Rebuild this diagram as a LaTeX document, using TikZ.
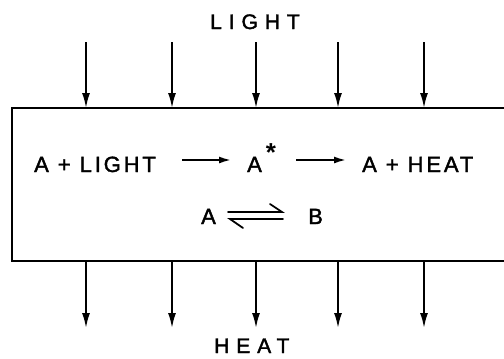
\documentclass[tikz,border=0pt]{standalone}
\usepackage{fontspec}
\setmainfont{Liberation Sans}
\newfontfamily\titlefont[LetterSpace=33,FakeBold=1.8]{Liberation Sans}
\newfontfamily\eqfont[LetterSpace=13,FakeBold=1.8]{Liberation Sans}
\usetikzlibrary{arrows.meta}
\tikzset{
  flux/.style={line width=1.8pt,-{Latex[length=15pt,width=8pt]}},
  react/.style={line width=1.8pt,-{Latex[length=12pt,width=7pt]}},
  harp/.style={line width=1.8pt,line cap=round},
  ttl/.style={anchor=base west,inner sep=0pt,font=\titlefont\fontsize{21}{21}\selectfont},
  eq/.style={anchor=base west,inner sep=0pt,font=\eqfont\fontsize{22}{22}\selectfont},
  boxline/.style={line width=2pt}
}
\begin{document}
\begin{tikzpicture}[x=1pt,y=-1pt]
\useasboundingbox (0,0) rectangle (504,359);
% box (right side runs beyond the picture)
\coordinate (tr) at (520,108);
\coordinate (tl) at (12,108);
\coordinate (bl) at (12,261);
\coordinate (br) at (520,261);
\draw[boxline] (tr) -- (tl) -- (bl) -- (br);
% titles
\node[ttl] (light) at (210,29) {LIGHT};
\node[ttl] (heat) at (214,353) {HEAT};
% incoming and outgoing arrows
\foreach \i/\x in {1/86,2/172,3/256,4/338,5/424}{
  \coordinate (in\i) at (\x,42);
  \coordinate (top\i) at (\x,108);
  \coordinate (bot\i) at (\x,261);
  \coordinate (out\i) at (\x,328);
  \draw[flux] (in\i) -- (top\i);
  \draw[flux] (bot\i) -- (out\i);
}
% first equation
\node[eq] (lhs) at (34,172) {A + LIGHT};
\node[eq] (astar) at (247,172) {A};
\node[inner sep=0pt,font=\bfseries\fontsize{26}{26}\selectfont] (star) at (271,153) {*};
\node[eq] (rhs) at (362,172) {A + HEAT};
\coordinate (a1s) at (182,160);
\coordinate (a1e) at (231,160);
\coordinate (a2s) at (296,160);
\coordinate (a2e) at (346,160);
\draw[react] (a1s) -- (a1e);
\draw[react] (a2s) -- (a2e);
% equilibrium
\node[eq] (A) at (201,224) {A};
\node[eq] (B) at (308,224) {B};
\coordinate (h1s) at (228,212);
\coordinate (h1e) at (282,212);
\coordinate (h1b) at (270,204);
\coordinate (h2s) at (230,219);
\coordinate (h2e) at (283,219);
\coordinate (h2b) at (243,228);
\draw[harp] (h1s) -- (h1e) -- (h1b);
\draw[harp] (h2e) -- (h2s) -- (h2b);
\end{tikzpicture}
\end{document}
